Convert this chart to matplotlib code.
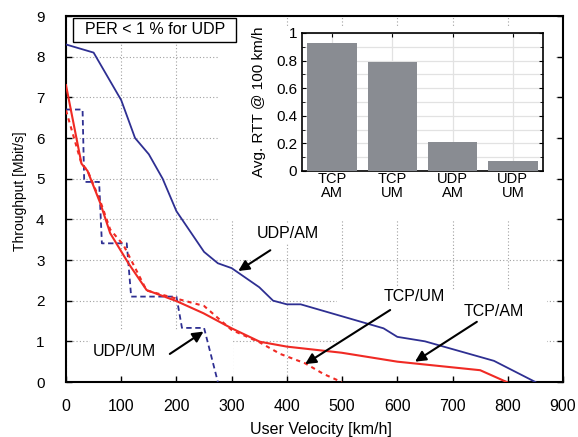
import matplotlib
matplotlib.use("Agg")
import matplotlib.pyplot as plt
from matplotlib.patches import Rectangle

plt.rcParams['font.family'] = ['Liberation Sans', 'DejaVu Sans']

# ---- data ----
udp_am_x = [0, 50, 100, 125, 150, 175, 200, 225, 250, 275, 300, 350, 375, 400, 425, 575, 600, 650, 775, 850]
udp_am_y = [8.3, 8.1, 6.93, 6.0, 5.6, 5.0, 4.2, 3.7, 3.2, 2.92, 2.8, 2.33, 2.0, 1.91, 1.91, 1.32, 1.11, 1.0, 0.52, 0.0]

tcp_am_x = [0, 28, 39, 62, 80, 113, 146, 200, 249, 300, 351, 400, 499, 600, 750, 798]
tcp_am_y = [7.3, 5.37, 5.19, 4.4, 3.66, 2.92, 2.26, 1.99, 1.69, 1.32, 0.99, 0.87, 0.72, 0.50, 0.29, 0.0]

tcp_um_x = [0, 28, 39, 62, 80, 104, 146, 200, 250, 300, 350, 388, 433, 466, 499]
tcp_um_y = [6.68, 5.37, 5.2, 4.45, 3.75, 3.37, 2.25, 2.05, 1.87, 1.28, 0.98, 0.69, 0.46, 0.2, 0.0]

udp_um_x = [0, 30, 33, 60, 65, 110, 118, 200, 210, 250, 275]
udp_um_y = [6.7, 6.7, 4.92, 4.92, 3.41, 3.41, 2.1, 2.1, 1.33, 1.33, 0.0]

bar_labels = ['TCP\nAM', 'TCP\nUM', 'UDP\nAM', 'UDP\nUM']
bar_values = [0.93, 0.79, 0.21, 0.075]

x_ticks = [0, 100, 200, 300, 400, 500, 600, 700, 800, 900]
y_ticks = [0, 1, 2, 3, 4, 5, 6, 7, 8, 9]

blue = '#2e2f92'
red = '#f02a24'

W, H = 578, 437
fig = plt.figure(figsize=(W / 100, H / 100), dpi=100)
ax = fig.add_axes([66 / W, 1 - 382 / H, (563 - 66) / W, (382 - 16) / H])

ax.plot(udp_am_x, udp_am_y, color=blue, lw=1.3, zorder=3)
ax.plot(udp_um_x, udp_um_y, color=blue, lw=1.3, ls=(0, (3, 2)), zorder=3)
ax.plot(tcp_am_x, tcp_am_y, color=red, lw=1.5, zorder=3)
ax.plot(tcp_um_x, tcp_um_y, color=red, lw=1.5, ls=(0, (2, 2)), zorder=3)

ax.set_xlim(0, 900)
ax.set_ylim(0, 9)
ax.set_xticks(x_ticks)
ax.set_yticks(y_ticks)
ax.tick_params(direction='in', length=4, width=1, top=False, right=True)
ax.tick_params(axis='x', pad=12, labelsize=11.5)
ax.tick_params(axis='y', pad=15.5, labelsize=11)
ax.grid(True, color='#a0a0a0', lw=0.8, ls=(0, (1, 2)))
for s in ax.spines.values():
    s.set_linewidth(1.5)

fig.text(320.5 / W, 3 / H, 'User Velocity [km/h]', fontsize=11.5, ha='center', va='baseline')
fig.text(20 / W, 1 - 191 / H, 'Throughput [Mbit/s]', fontsize=10, rotation=90,
         ha='center', va='center')

# white areas hiding the grid (behind inset and annotation labels)
ax.add_patch(Rectangle((218 / W, 1 - 221 / H), (555 - 218) / W, (221 - 28) / H,
                       transform=fig.transFigure, facecolor='white', edgecolor='none', zorder=1.8))
ax.add_patch(Rectangle((43, 0.15), 302 - 43, 1.28 - 0.15,
                       facecolor='white', edgecolor='none', zorder=1.8))
ax.add_patch(Rectangle((490, 0.15), 871 - 490, 2.25 - 0.15,
                       facecolor='white', edgecolor='none', zorder=1.8))

# PER box
ax.add_patch(Rectangle((73 / W, 1 - 42 / H), (236 - 73) / W, (42 - 18) / H,
                       transform=fig.transFigure, facecolor='white', edgecolor='black',
                       lw=1, zorder=5))
ax.text(155 / W, 1 - 30 / H, 'PER < 1 % for UDP', transform=fig.transFigure, fontsize=11.5,
        va='center', ha='center', zorder=6)

# annotations
txt_kw = dict(fontsize=11.5, va='center', ha='left', zorder=4,
              bbox=dict(boxstyle='square,pad=0.15', facecolor='white', edgecolor='none'))
ax.text(346, 3.66, 'UDP/AM', **txt_kw)
ax.text(48, 0.75, 'UDP/UM', **txt_kw)
ax.text(575, 2.1, 'TCP/UM', **txt_kw)
ax.text(720, 1.73, 'TCP/AM', **txt_kw)

arr = dict(arrowstyle='-|>', color='black', lw=1.5, mutation_scale=16, shrinkA=0, shrinkB=0)
ax.annotate('', xy=(312, 2.73), xytext=(370, 3.24), arrowprops=arr, zorder=5)
ax.annotate('', xy=(249, 1.24), xytext=(188, 0.69), arrowprops=arr, zorder=5)
ax.annotate('', xy=(433, 0.44), xytext=(587, 1.77), arrowprops=arr, zorder=5)
ax.annotate('', xy=(632, 0.5), xytext=(744, 1.48), arrowprops=arr, zorder=5)

# inset bar chart
ins = fig.add_axes([302 / W, 1 - 171 / H, (543 - 302) / W, (171 - 33) / H])
pos = [1, 2, 3, 4]
ins.bar(pos, bar_values, width=0.82, color='#898c92', zorder=3)
ins.set_xlim(0.5, 4.5)
ins.set_ylim(0, 1)
ins.set_xticks(pos)
ins.set_xticklabels(bar_labels, fontsize=10.5, linespacing=1.0)
ins.set_yticks([0, 0.2, 0.4, 0.6, 0.8, 1.0])
ins.set_yticklabels(['0', '0.2', '0.4', '0.6', '0.8', '1'], fontsize=11)
ins.set_yticks([0.1, 0.3, 0.5, 0.7, 0.9], minor=True)
ins.tick_params(direction='in', length=3, width=0.8, right=True, top=True)
ins.tick_params(axis='x', pad=1)
ins.tick_params(axis='y', pad=3.5)
ins.tick_params(which='minor', direction='in', length=2, width=0.6, right=True)
ins.grid(True, which='both', color='#e2e2e2', lw=0.9)
for s in ins.spines.values():
    s.set_linewidth(1.2)
fig.text(259 / W, 1 - 101.5 / H, 'Avg. RTT @ 100 km/h', fontsize=11, rotation=90,
         ha='center', va='center')

fig.savefig('out.png', dpi=100)
